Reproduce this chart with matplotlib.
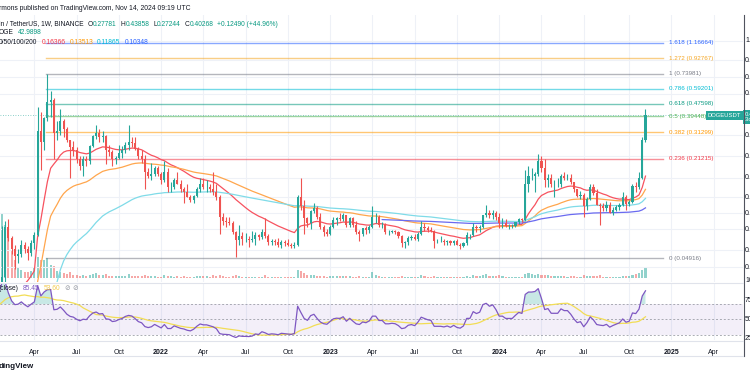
import numpy as np
import pandas as pd
import matplotlib
matplotlib.use("Agg")
import matplotlib.pyplot as plt
import matplotlib.dates as mdates
from matplotlib.lines import Line2D
import matplotlib.transforms as mtransforms

plt.rcParams['font.family'] = ['Liberation Sans', 'DejaVu Sans']

# ---------------- data ----------------
# weekly closes before the visible window (used for moving averages / RSI), from 2019-07-01
early_closes = [0.0033,
    0.0032, 0.0031, 0.0030, 0.0030, 0.0029, 0.0027, 0.0027, 0.0026,
    0.0025, 0.0025, 0.0026, 0.0024, 0.0024, 0.0025, 0.0026, 0.0027, 0.0027,
    0.0027, 0.0027, 0.0025, 0.0023, 0.0022, 0.0022, 0.0020, 0.0020, 0.0020,
    0.0022, 0.0024, 0.0024, 0.0024, 0.0028, 0.0031, 0.0027, 0.0026,
    0.0024, 0.0017, 0.0018, 0.0018, 0.0019, 0.0019, 0.0020, 0.0020, 0.0022,
    0.0025, 0.0025, 0.0025, 0.0026, 0.0026, 0.0025, 0.0025, 0.0024, 0.0024,
    0.0026, 0.0032, 0.0034, 0.0034, 0.0035, 0.0036, 0.0034, 0.0033, 0.0030,
    0.0029, 0.0028, 0.0027, 0.0026, 0.0026, 0.0026, 0.0026, 0.0027,
    0.0028, 0.0029, 0.0031, 0.0034, 0.0032, 0.0033, 0.0045, 0.0046, 0.0053,
    0.0087, 0.0093]

# visible weekly candles, DOGE/USDT, week of 2021-01-18 ... 2024-11-11
opens = [
    0.0093, 0.0086, 0.0372, 0.0777, 0.0662, 0.0560, 0.0505, 0.0520, 0.0600, 0.0560,
    0.0530, 0.0610, 0.0690, 0.3200, 0.2700, 0.3850, 0.4900, 0.5000, 0.3100, 0.3200,
    0.3700, 0.3300, 0.2800, 0.2500, 0.2400, 0.2100, 0.1900, 0.2100, 0.2050, 0.2550,
    0.2950, 0.3100, 0.2900, 0.2950, 0.2400, 0.2350, 0.2100, 0.2150, 0.2300, 0.2400,
    0.2600, 0.2700, 0.2650, 0.2450, 0.2200, 0.2100, 0.1750, 0.1650, 0.1700, 0.1850,
    0.1700, 0.1550, 0.1750, 0.1400, 0.1400, 0.1550, 0.1450, 0.1350, 0.1300, 0.1200,
    0.1150, 0.1220, 0.1350, 0.1450, 0.1400, 0.1400, 0.1350, 0.1300, 0.1200, 0.0900,
    0.0850, 0.0840, 0.0820, 0.0720, 0.0640, 0.0680, 0.0650, 0.0650, 0.0640, 0.0650,
    0.0690, 0.0670, 0.0720, 0.0680, 0.0620, 0.0630, 0.0620, 0.0600, 0.0620, 0.0610,
    0.0600, 0.0590, 0.0600, 0.1200, 0.1050, 0.0880, 0.0820, 0.0980, 0.1030, 0.0900,
    0.0780, 0.0720, 0.0700, 0.0780, 0.0860, 0.0880, 0.0870, 0.0920, 0.0800, 0.0880,
    0.0800, 0.0720, 0.0700, 0.0760, 0.0740, 0.0780, 0.0900, 0.0900, 0.0800, 0.0800,
    0.0720, 0.0720, 0.0730, 0.0720, 0.0680, 0.0610, 0.0620, 0.0660, 0.0670, 0.0650,
    0.0700, 0.0780, 0.0760, 0.0740, 0.0730, 0.0630, 0.0630, 0.0630, 0.0620, 0.0630,
    0.0610, 0.0630, 0.0600, 0.0590, 0.0610, 0.0690, 0.0690, 0.0780, 0.0760, 0.0780,
    0.0920, 0.0950, 0.0920, 0.0950, 0.0900, 0.0820, 0.0820, 0.0790, 0.0790, 0.0790,
    0.0830, 0.0870, 0.0860, 0.1450, 0.1650, 0.1650, 0.1700, 0.2050, 0.1850, 0.1550,
    0.1600, 0.1450, 0.1450, 0.1450, 0.1650, 0.1600, 0.1600, 0.1500, 0.1350, 0.1220,
    0.1250, 0.1050, 0.1180, 0.1400, 0.1280, 0.1080, 0.1050, 0.1030, 0.1070, 0.0950,
    0.1000, 0.1040, 0.1080, 0.1200, 0.1090, 0.1120, 0.1420, 0.1400, 0.1600, 0.27781]
highs = [
    0.0103, 0.0784, 0.0852, 0.0876, 0.0680, 0.0600, 0.0560, 0.0640, 0.0620, 0.0590,
    0.0640, 0.0720, 0.4500, 0.4200, 0.3900, 0.7380, 0.5700, 0.5200, 0.3700, 0.4400,
    0.3800, 0.3400, 0.2800, 0.2750, 0.2500, 0.2200, 0.2200, 0.2200, 0.2600, 0.3000,
    0.3500, 0.3300, 0.3200, 0.3000, 0.2600, 0.2400, 0.2200, 0.2600, 0.2550, 0.2700,
    0.3500, 0.2900, 0.2900, 0.2500, 0.2400, 0.2250, 0.1850, 0.2000, 0.1900, 0.1900,
    0.1750, 0.2050, 0.1850, 0.1500, 0.1600, 0.1750, 0.1550, 0.1400, 0.1450, 0.1250,
    0.1250, 0.1400, 0.1600, 0.1600, 0.1550, 0.1450, 0.1750, 0.1450, 0.1250, 0.0950,
    0.0900, 0.0900, 0.0850, 0.0730, 0.0800, 0.0720, 0.0710, 0.0680, 0.0730, 0.0720,
    0.0700, 0.0750, 0.0880, 0.0700, 0.0650, 0.0650, 0.0660, 0.0640, 0.0640, 0.0650,
    0.0610, 0.0620, 0.1250, 0.1590, 0.1150, 0.0900, 0.1000, 0.1100, 0.1050, 0.0950,
    0.0800, 0.0750, 0.0800, 0.0900, 0.0900, 0.0950, 0.0960, 0.0930, 0.0900, 0.0900,
    0.0850, 0.0740, 0.0770, 0.0790, 0.0800, 0.1050, 0.0950, 0.0930, 0.0840, 0.0820,
    0.0740, 0.0740, 0.0740, 0.0730, 0.0690, 0.0630, 0.0680, 0.0690, 0.0700, 0.0720,
    0.0850, 0.0820, 0.0790, 0.0780, 0.0740, 0.0650, 0.0680, 0.0650, 0.0640, 0.0640,
    0.0640, 0.0650, 0.0610, 0.0620, 0.0720, 0.0700, 0.0820, 0.0800, 0.0800, 0.0920,
    0.1080, 0.1000, 0.0990, 0.0980, 0.0950, 0.0880, 0.0870, 0.0810, 0.0810, 0.0840,
    0.0880, 0.0890, 0.1800, 0.1900, 0.1850, 0.1750, 0.2280, 0.2200, 0.2100, 0.1700,
    0.1700, 0.1550, 0.1600, 0.1700, 0.1750, 0.1700, 0.1700, 0.1500, 0.1350, 0.1320,
    0.1280, 0.1200, 0.1450, 0.1450, 0.1350, 0.1100, 0.1100, 0.1140, 0.1120, 0.1040,
    0.1070, 0.1100, 0.1300, 0.1250, 0.1150, 0.1450, 0.1500, 0.1750, 0.2900, 0.43858]
lows = [
    0.0078, 0.0076, 0.0305, 0.0630, 0.0520, 0.0420, 0.0460, 0.0500, 0.0530, 0.0480,
    0.0510, 0.0560, 0.0680, 0.1800, 0.2400, 0.3700, 0.3900, 0.2100, 0.2800, 0.3000,
    0.2900, 0.2700, 0.1600, 0.2200, 0.2000, 0.1800, 0.1650, 0.1900, 0.1950, 0.2500,
    0.2850, 0.2700, 0.2700, 0.1950, 0.2200, 0.1900, 0.1950, 0.2100, 0.2150, 0.2300,
    0.2400, 0.2500, 0.2400, 0.2100, 0.2000, 0.1350, 0.1600, 0.1550, 0.1650, 0.1650,
    0.1450, 0.1500, 0.1300, 0.1300, 0.1350, 0.1450, 0.1300, 0.1100, 0.1200, 0.1120,
    0.1100, 0.1200, 0.1300, 0.1350, 0.1300, 0.1300, 0.1250, 0.1150, 0.0700, 0.0800,
    0.0780, 0.0800, 0.0700, 0.0500, 0.0600, 0.0600, 0.0620, 0.0580, 0.0620, 0.0600,
    0.0640, 0.0650, 0.0660, 0.0600, 0.0600, 0.0600, 0.0580, 0.0570, 0.0590, 0.0590,
    0.0570, 0.0570, 0.0590, 0.1000, 0.0700, 0.0780, 0.0750, 0.0950, 0.0870, 0.0750,
    0.0680, 0.0680, 0.0690, 0.0760, 0.0800, 0.0850, 0.0850, 0.0780, 0.0780, 0.0780,
    0.0700, 0.0630, 0.0680, 0.0700, 0.0710, 0.0770, 0.0820, 0.0780, 0.0770, 0.0700,
    0.0690, 0.0710, 0.0700, 0.0660, 0.0580, 0.0570, 0.0600, 0.0640, 0.0640, 0.0630,
    0.0690, 0.0730, 0.0720, 0.0720, 0.0570, 0.0610, 0.0620, 0.0600, 0.0600, 0.0600,
    0.0600, 0.0600, 0.0560, 0.0580, 0.0600, 0.0650, 0.0680, 0.0720, 0.0720, 0.0770,
    0.0900, 0.0880, 0.0870, 0.0860, 0.0770, 0.0770, 0.0780, 0.0750, 0.0770, 0.0780,
    0.0810, 0.0830, 0.0850, 0.1300, 0.1550, 0.1300, 0.1650, 0.1750, 0.1400, 0.1400,
    0.1400, 0.1200, 0.1400, 0.1400, 0.1550, 0.1550, 0.1450, 0.1300, 0.1200, 0.1180,
    0.0900, 0.1000, 0.1150, 0.1250, 0.1080, 0.0800, 0.0980, 0.0980, 0.0950, 0.0920,
    0.0980, 0.1000, 0.1050, 0.1000, 0.1050, 0.1100, 0.1300, 0.1350, 0.1580, 0.27244]
closes = [
    0.0086, 0.0372, 0.0777, 0.0662, 0.0560, 0.0505, 0.0520, 0.0600, 0.0560, 0.0530,
    0.0610, 0.0690, 0.3200, 0.2700, 0.3850, 0.4900, 0.5000, 0.3100, 0.3200, 0.3700,
    0.3300, 0.2800, 0.2500, 0.2400, 0.2100, 0.1900, 0.2100, 0.2050, 0.2550, 0.2950,
    0.3100, 0.2900, 0.2950, 0.2400, 0.2350, 0.2100, 0.2150, 0.2300, 0.2400, 0.2600,
    0.2700, 0.2650, 0.2450, 0.2200, 0.2100, 0.1750, 0.1650, 0.1700, 0.1850, 0.1700,
    0.1550, 0.1750, 0.1400, 0.1400, 0.1550, 0.1450, 0.1350, 0.1300, 0.1200, 0.1150,
    0.1220, 0.1350, 0.1450, 0.1400, 0.1400, 0.1350, 0.1300, 0.1200, 0.0900, 0.0850,
    0.0840, 0.0820, 0.0720, 0.0640, 0.0680, 0.0650, 0.0650, 0.0640, 0.0650, 0.0690,
    0.0670, 0.0720, 0.0680, 0.0620, 0.0630, 0.0620, 0.0600, 0.0620, 0.0610, 0.0600,
    0.0590, 0.0600, 0.1200, 0.1050, 0.0880, 0.0820, 0.0980, 0.1030, 0.0900, 0.0780,
    0.0720, 0.0700, 0.0780, 0.0860, 0.0880, 0.0870, 0.0920, 0.0800, 0.0880, 0.0800,
    0.0720, 0.0700, 0.0760, 0.0740, 0.0780, 0.0900, 0.0900, 0.0800, 0.0800, 0.0720,
    0.0720, 0.0730, 0.0720, 0.0680, 0.0610, 0.0620, 0.0660, 0.0670, 0.0650, 0.0700,
    0.0780, 0.0760, 0.0740, 0.0730, 0.0630, 0.0630, 0.0630, 0.0620, 0.0630, 0.0610,
    0.0630, 0.0600, 0.0590, 0.0610, 0.0690, 0.0690, 0.0780, 0.0760, 0.0780, 0.0920,
    0.0950, 0.0920, 0.0950, 0.0900, 0.0820, 0.0820, 0.0790, 0.0790, 0.0790, 0.0830,
    0.0870, 0.0860, 0.1450, 0.1650, 0.1650, 0.1700, 0.2050, 0.1850, 0.1550, 0.1600,
    0.1450, 0.1450, 0.1450, 0.1650, 0.1600, 0.1600, 0.1500, 0.1350, 0.1220, 0.1250,
    0.1050, 0.1180, 0.1400, 0.1280, 0.1080, 0.1050, 0.1030, 0.1070, 0.0950, 0.1000,
    0.1040, 0.1080, 0.1200, 0.1090, 0.1120, 0.1420, 0.1400, 0.1600, 0.27781, 0.40268]
# weekly volume, billions of DOGE
volumes = [
    3, 65, 53, 40, 28, 18, 11, 8, 6, 6,
    7, 10, 21, 18, 18, 20, 13, 12, 7, 6,
    5, 4, 6, 3.5, 3, 2.5, 3, 2.5, 3, 4,
    5, 3, 3, 4, 2, 2.5, 2, 2.5, 2, 2.5,
    4, 2.5, 2, 2, 2, 3.5, 2, 2.5, 2, 1.5,
    1.5, 3, 2, 2, 1.5, 2, 1.5, 2, 1.5, 1.5,
    1.5, 2, 2.5, 2, 2, 1.5, 3.5, 2, 3.5, 2,
    1.5, 1.5, 2, 3.5, 2.5, 1.5, 1.5, 1.5, 1.5, 1.5,
    1.5, 1.5, 3, 1.5, 1.5, 1.5, 1.5, 1.5, 1.5, 1.5,
    1.5, 1.5, 8, 7, 5, 3, 3, 3, 2, 2,
    2, 1.5, 2, 2, 2, 2, 2, 2, 2, 1.5,
    1.5, 2, 1.5, 1.5, 1.5, 6, 3, 2, 1.5, 1.5,
    1.5, 1.2, 1.2, 1.2, 2, 1.5, 1.5, 1.5, 1.5, 1.5,
    3, 2, 1.5, 1.5, 2, 1.5, 1.5, 1.2, 1.2, 1.2,
    1.2, 1.2, 1.2, 1.2, 2, 1.5, 3, 2.5, 2, 3,
    4, 2.5, 2.5, 2, 3, 2, 1.5, 1.5, 1.5, 1.5,
    1.5, 1.5, 4, 5, 4, 3.5, 4, 3.5, 3.5, 3,
    2.5, 2.5, 2, 2.5, 2, 1.5, 2, 2, 1.5, 1.5,
    3, 2, 2.5, 2, 2, 3.5, 1.5, 1.5, 1.5, 1.5,
    1.5, 1.5, 2.5, 2.5, 2, 3.5, 4, 5, 8, 10]

fib_levels = ["1.618", "1.272", "1", "0.786", "0.618", "0.5", "0.382", "0.236", "0"]
fib_prices = [1.16664, 0.92767, 0.73981, 0.59201, 0.47598, 0.39448, 0.31299, 0.21215, 0.04916]
fib_colors = ["#2962ff", "#f5a623", "#787b86", "#00bcd4", "#089981", "#4caf50", "#ff9800", "#f23645", "#787b86"]

ma_periods = [20, 50, 100, 200]
ma_colors = ["#f7525f", "#ffa64d", "#7fdbe8", "#6a6af0"]
ma_values_text = ["0.16366", "0.13513", "0.11865", "0.10348"]
ma_text_colors = ["#f23645", "#ff9800", "#00bcd4", "#2962ff"]

time_ticks = ["2021-04-05", "2021-07-05", "2021-10-04", "2022-01-03", "2022-04-04", "2022-07-04",
              "2022-10-03", "2023-01-02", "2023-04-03", "2023-07-03", "2023-10-02", "2024-01-01",
              "2024-04-01", "2024-07-01", "2024-10-07", "2025-01-06", "2025-04-07"]
time_labels = ["Apr", "Jul", "Oct", "2022", "Apr", "Jul", "Oct", "2023", "Apr", "Jul", "Oct", "2024",
               "Apr", "Jul", "Oct", "2025", "Apr"]

price_ticks = [1.2, 0.9, 0.7, 0.55, 0.3, 0.22, 0.16, 0.12, 0.095, 0.075, 0.055, 0.043]
rsi_ticks = [100, 75, 50, 25]

# ---------------- derived series ----------------
n_early = len(early_closes)
all_dates = pd.date_range("2019-07-01", periods=n_early + len(closes), freq="W-MON")
all_close = np.array(early_closes + closes)
xd = mdates.date2num(all_dates[n_early:].to_pydatetime())
xall = mdates.date2num(all_dates.to_pydatetime())

o = np.array(opens); h = np.array(highs); l = np.array(lows); c = np.array(closes)
up = c >= o


def ema_seeded(vals, n):
    out = np.full(len(vals), np.nan)
    out[n - 1] = vals[:n].mean()
    a = 2.0 / (n + 1)
    for i in range(n, len(vals)):
        out[i] = a * vals[i] + (1 - a) * out[i - 1]
    return out


def rma(vals, n):
    out = np.full(len(vals), np.nan)
    out[n - 1] = vals[:n].mean()
    for i in range(n, len(vals)):
        out[i] = (vals[i] + (n - 1) * out[i - 1]) / n
    return out


delta = np.diff(all_close, prepend=all_close[0])
ag = rma(np.clip(delta, 0, None), 14)
al = rma(np.clip(-delta, 0, None), 14)
rsi = 100 - 100 / (1 + ag / al)
rsi_ma = pd.Series(rsi).rolling(14).mean().values

# ---------------- figure ----------------
W, H = 750, 375
fig = plt.figure(figsize=(7.5, 3.75), dpi=100)
fig.patch.set_facecolor("white")


def fy(py):
    return 1 - py / H


x_left = mdates.date2num(pd.Timestamp("2021-01-21"))
x_right = mdates.date2num(pd.Timestamp("2025-06-09"))
PANE_R = 743 / W

ax_vol = fig.add_axes([0, fy(282), PANE_R, (282 - 15) / H])
ax_p = fig.add_axes([0, fy(282), PANE_R, (282 - 15) / H], sharex=ax_vol)
ax_p.patch.set_visible(False)
ax_rsi = fig.add_axes([0, fy(340), PANE_R, (340 - 283) / H])

for a in (ax_vol, ax_p, ax_rsi):
    for s in a.spines.values():
        s.set_visible(False)
    a.tick_params(left=False, right=False, bottom=False, top=False,
                  labelleft=False, labelbottom=False)

ax_vol.set_xlim(x_left, x_right)
ax_rsi.set_xlim(x_left, x_right)
ax_vol.set_ylim(-4, 263)

ax_p.set_yscale("log")
ax_p.set_ylim(0.03457, 1.753)
ax_p.yaxis.set_minor_locator(matplotlib.ticker.NullLocator())

grid_c = "#eef1f7"
tick_x = mdates.date2num(pd.to_datetime(time_ticks).to_pydatetime())
for tx in tick_x:
    ax_vol.axvline(tx, color=grid_c, lw=0.8, zorder=0)
    ax_rsi.axvline(tx, color=grid_c, lw=0.8, zorder=0)
for pt in price_ticks:
    ax_p.axhline(pt, color=grid_c, lw=0.8, zorder=0)

# volume bars
vol_col = np.where(up, "#26a69a", "#ef5350")
ax_vol.bar(xd, volumes, width=4.6, color=vol_col, alpha=0.5, linewidth=0, zorder=1)

# moving averages (exponential, seeded with simple average)
for per, col in zip(ma_periods, ma_colors):
    ax_p.plot(xall, ema_seeded(all_close, per), color=col, lw=0.9, zorder=3)

# fib retracement
fib_x0 = mdates.date2num(pd.Timestamp("2021-04-29"))
fib_x1 = mdates.date2num(pd.Timestamp("2024-12-19"))
for lev, val, col in zip(fib_levels, fib_prices, fib_colors):
    ax_p.plot([fib_x0, fib_x1], [val, val], color=col, lw=1.0, alpha=0.55, zorder=2)
    ax_p.annotate(f"{lev} ({val:.5f})", xy=(fib_x1, val), xytext=(4.3, 0),
                  textcoords="offset points", color=col, fontsize=4.5,
                  va="center", ha="left", annotation_clip=False)

# last price dotted line
ax_p.axhline(c[-1], color="#26a69a", lw=0.6, ls=(0, (1, 2)), zorder=2, alpha=0.7)

# candles
ccol = np.where(up, "#26a69a", "#ef5350")
ax_p.vlines(xd, l, h, colors=ccol, lw=0.8, zorder=4)
ax_p.bar(xd, np.abs(c - o), bottom=np.minimum(o, c), width=4.6, color=ccol, linewidth=0, zorder=5)

# RSI pane
ax_rsi.set_ylim(23.5, 97.1)
ax_rsi.axhspan(30, 70, color="#7e57c2", alpha=0.09, lw=0, zorder=0)
for lvl in (70, 50, 30):
    ax_rsi.axhline(lvl, color="#9598a1", lw=0.7, ls=(0, (2, 2)), alpha=0.8, zorder=1)
ok = ~np.isnan(rsi)
ax_rsi.fill_between(xall[ok], 70, rsi[ok], where=rsi[ok] > 70, interpolate=True,
                    color="#26a69a", alpha=0.25, lw=0, zorder=1)
ax_rsi.plot(xall, rsi, color="#7e57c2", lw=0.9, zorder=3)
ax_rsi.plot(xall, rsi_ma, color="#f2dd55", lw=0.9, zorder=2)

# time axis labels
ax_rsi.set_xticks(tick_x)
ax_rsi.set_xticklabels(time_labels)
ax_rsi.tick_params(labelbottom=True, pad=3.2, labelsize=5.0, labelcolor="#131722")
for lab, txt in zip(ax_rsi.get_xticklabels(), time_labels):
    if txt.isdigit():
        lab.set_fontweight("bold")

# frame lines
fig.add_artist(Line2D([PANE_R + 0.5 / W, PANE_R + 0.5 / W], [fy(15), fy(356)], color="#50535e", lw=0.8))
fig.add_artist(Line2D([0, PANE_R], [fy(282.5), fy(282.5)], color="#e0e3eb", lw=0.8))
fig.add_artist(Line2D([0, PANE_R], [fy(340.5), fy(340.5)], color="#e0e3eb", lw=0.8))
fig.add_artist(Line2D([0, PANE_R], [fy(355.5), fy(355.5)], color="#e0e3eb", lw=0.8))

# right axis labels (cut off by the figure edge)
ytr = mtransforms.blended_transform_factory(ax_p.transAxes, ax_p.transData)
for pt in price_ticks:
    ax_p.text(745 / 743, pt, f"{pt:.5f}", transform=ytr, fontsize=5.0, color="#131722",
              va="center", ha="left", clip_on=False)
ytr2 = mtransforms.blended_transform_factory(ax_rsi.transAxes, ax_rsi.transData)
for rt in rsi_ticks:
    ax_rsi.text(745 / 743, rt, f"{rt:.2f}", transform=ytr2, fontsize=5.0, color="#131722",
                va="center", ha="left", clip_on=False)

# DOGEUSDT label + price label
ax_p.annotate("DOGEUSDT", xy=(1.0, c[-1]), xycoords=ytr, xytext=(-1.6, -0.5), textcoords="offset points",
              ha="right", va="center", fontsize=4.2, color="white",
              bbox=dict(boxstyle="square,pad=0.3", fc="#26a69a", ec="none"), annotation_clip=False)
ax_p.annotate(f"{c[-1]:.5f}\n3d 14h", xy=(1.0, c[-1]), xycoords=ytr, xytext=(1.5, -1.5), textcoords="offset points",
              ha="left", va="center", fontsize=4.3, color="white", linespacing=1.1,
              bbox=dict(boxstyle="square,pad=0.3", fc="#26a69a", ec="none"), annotation_clip=False)

# header / legends
fig.canvas.draw()
renderer = fig.canvas.get_renderer()


def seq_text(x_px, y_px, pieces, size=4.8, weight="normal"):
    x = x_px
    for s, col, gap in pieces:
        t = fig.text(x / W, fy(y_px), s, fontsize=size, color=col, va="center", ha="left", fontweight=weight)
        bb = t.get_window_extent(renderer)
        x = bb.x1 + gap


seq_text(-1, 8, [("rmons published on TradingView.com, Nov 14, 2024 09:19 UTC", "#131722", 0)], size=4.9)
seq_text(-1, 24, [("in / TetherUS, 1W, BINANCE", "#131722", 4),
                  ("O", "#131722", 0), ("0.27781", "#089981", 4),
                  ("H", "#131722", 0), ("0.43858", "#089981", 4),
                  ("L", "#131722", 0), ("0.27244", "#089981", 4),
                  ("C", "#131722", 0), ("0.40268", "#089981", 4),
                  ("+0.12490 (+44.96%)", "#089981", 0)])
seq_text(-1, 33, [("OGE", "#131722", 4), ("42.9898", "#089981", 0)])
pieces = [("0/50/100/200", "#131722", 4)]
for v, col in zip(ma_values_text, ma_text_colors):
    pieces.append((v, col, 4))
seq_text(-1, 42, pieces)
seq_text(-1, 288, [("(close)", "#131722", 4), ("85.45", "#7e57c2", 4), ("53.60", "#f2c94c", 4),
                   ("\u2298", "#9598a1", 3), ("\u2298", "#9598a1", 0)])
seq_text(-1, 366, [("dingView", "#131722", 0)], size=5.8, weight="bold")

fig.savefig("out.png", dpi=100, facecolor="white")
